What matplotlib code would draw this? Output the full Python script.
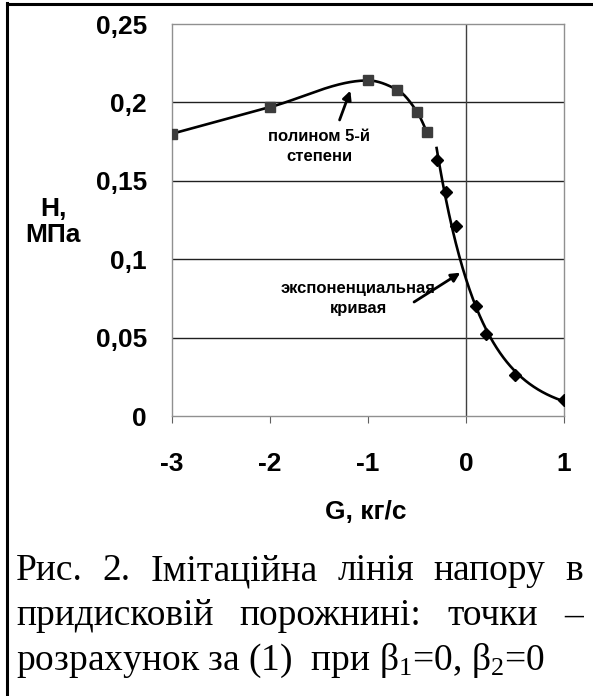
import numpy as np
import matplotlib
matplotlib.use("Agg")
import matplotlib.pyplot as plt
from matplotlib.lines import Line2D

plt.rcParams['font.family'] = ['Liberation Sans', 'DejaVu Sans']
plt.rcParams['axes.unicode_minus'] = False
plt.rcParams['mathtext.fontset'] = 'custom'
plt.rcParams['mathtext.rm'] = 'Liberation Serif'
plt.rcParams['mathtext.it'] = 'Liberation Serif'

# data
g_poly = [-3.0, -2.0, -1.0, -0.7, -0.5, -0.4]
h_poly = [0.180, 0.197, 0.214, 0.208, 0.194, 0.181]

g_exp = [-0.3, -0.2, -0.1, 0.1, 0.2, 0.5, 1.0]
h_exp = [0.163, 0.143, 0.121, 0.070, 0.052, 0.026, 0.010]

x_ticks = [-3, -2, -1, 0, 1]
y_ticks = [0, 0.05, 0.1, 0.15, 0.2, 0.25]
y_labels = ["0", "0,05", "0,1", "0,15", "0,2", "0,25"]

caption1 = "Рис. 2. Імітаційна лінія напору в"
caption2 = "придисковій порожнині: точки –"
caption3 = "розрахунок за (1)  при β$_1$=0, β$_2$=0"


def pchip(x, y, xs):
    # smooth monotone cubic through the points (no overshoot like the 5th order poly)
    x = np.asarray(x, float)
    y = np.asarray(y, float)
    h = np.diff(x)
    d = np.diff(y) / h
    m = np.zeros_like(y)
    for k in range(1, len(x) - 1):
        if d[k - 1] * d[k] > 0:
            w1 = 2 * h[k] + h[k - 1]
            w2 = h[k] + 2 * h[k - 1]
            m[k] = (w1 + w2) / (w1 / d[k - 1] + w2 / d[k])
    m[0] = ((2 * h[0] + h[1]) * d[0] - h[0] * d[1]) / (h[0] + h[1])
    if np.sign(m[0]) != np.sign(d[0]):
        m[0] = 0
    m[-1] = ((2 * h[-1] + h[-2]) * d[-1] - h[-1] * d[-2]) / (h[-1] + h[-2])
    if np.sign(m[-1]) != np.sign(d[-1]):
        m[-1] = 0
    i = np.clip(np.searchsorted(x, xs) - 1, 0, len(x) - 2)
    t = (xs - x[i]) / h[i]
    h00 = 2 * t**3 - 3 * t**2 + 1
    h10 = t**3 - 2 * t**2 + t
    h01 = -2 * t**3 + 3 * t**2
    h11 = t**3 - t**2
    return h00 * y[i] + h10 * h[i] * m[i] + h01 * y[i + 1] + h11 * h[i] * m[i + 1]


W, H = 593, 696
fig = plt.figure(figsize=(W / 100, H / 100), dpi=100)
ax = fig.add_axes([172 / W, 1 - 416 / H, 392 / W, 392 / H])

xp = np.linspace(min(g_poly), max(g_poly), 300)
ax.plot(xp, pchip(g_poly, h_poly, xp), color='k', lw=1.9, zorder=3)

# exponential trend line (fit on log)
b, ln_a = np.polyfit(g_exp, np.log(h_exp), 1)
xe = np.linspace(min(g_exp), max(g_exp), 300)
ax.plot(xe, np.exp(ln_a) * np.exp(b * xe), color='k', lw=1.9, zorder=3)

ax.plot(g_poly, h_poly, 's', color='#3c3c3c', ms=6.5, zorder=4)
ax.plot(g_exp, h_exp, 'D', color='k', ms=6.5, zorder=4)

ax.set_xlim(-3, 1)
ax.set_ylim(0, 0.25)
ax.set_xticks(x_ticks)
ax.set_yticks(y_ticks)
ax.set_yticklabels(y_labels)
for yv in y_ticks[1:-1]:
    ax.axhline(yv, color='#202020', lw=1, zorder=1)
ax.axvline(0, color='#404040', lw=1, zorder=1)
for s in ax.spines.values():
    s.set_color('#909090')
    s.set_linewidth(1)
ax.tick_params(axis='y', length=0, pad=18, labelsize=19)
ax.tick_params(axis='x', length=5, direction='out', color='#606060', pad=21, labelsize=19)
for t in ax.get_xticklabels() + ax.get_yticklabels():
    t.set_fontweight('bold')

arrow = dict(arrowstyle='-|>', color='k', lw=2, mutation_scale=13, shrinkA=0, shrinkB=0)
ax.annotate("", xy=(-1.18, 0.2075), xytext=(-1.29, 0.1888), arrowprops=arrow)
ax.text(-1.50, 0.1720, "полином 5-й\nстепени", ha='center', va='center',
        fontsize=12, fontweight='bold', linespacing=1.45)
ax.annotate("", xy=(-0.058, 0.0914), xytext=(-0.53, 0.0727), arrowprops=arrow)
ax.text(-1.10, 0.0750, "экспоненциальная\nкривая", ha='center', va='center',
        fontsize=12, fontweight='bold', linespacing=1.4)

fig.text(53 / W, 1 - 222 / H, "H,\nМПа", ha='center', va='center',
         fontsize=19, fontweight='bold', linespacing=1.1)
fig.text(366 / W, 1 - 512 / H, "G, кг/с", ha='center', va='center',
         fontsize=19, fontweight='bold')

# page border from the scanned document
fig.add_artist(Line2D([7 / W, 7 / W], [0, 1 - 3 / H], color='k', lw=2.2))
fig.add_artist(Line2D([7 / W, 1], [1 - 4 / H, 1 - 4 / H], color='k', lw=2.2))

# justified caption
renderer = fig.canvas.get_renderer()
cap_size = 27
x0, x1 = 16, 583


def justify(line, base_y):
    words = line.split()
    arts = [fig.text(0, 1 - base_y / H, w, fontsize=cap_size, family='Liberation Serif',
                     va='baseline') for w in words]
    widths = [a.get_window_extent(renderer).width for a in arts]
    gap = (x1 - x0 - sum(widths)) / (len(words) - 1)
    x = x0
    for a, w in zip(arts, widths):
        a.set_x(x / W)
        x += w + gap


justify(caption1, 580)
justify(caption2, 625)
fig.text(x0 / W, 1 - 670 / H, caption3, fontsize=cap_size, family='Liberation Serif',
         va='baseline')

fig.savefig("out.png", dpi=100)
